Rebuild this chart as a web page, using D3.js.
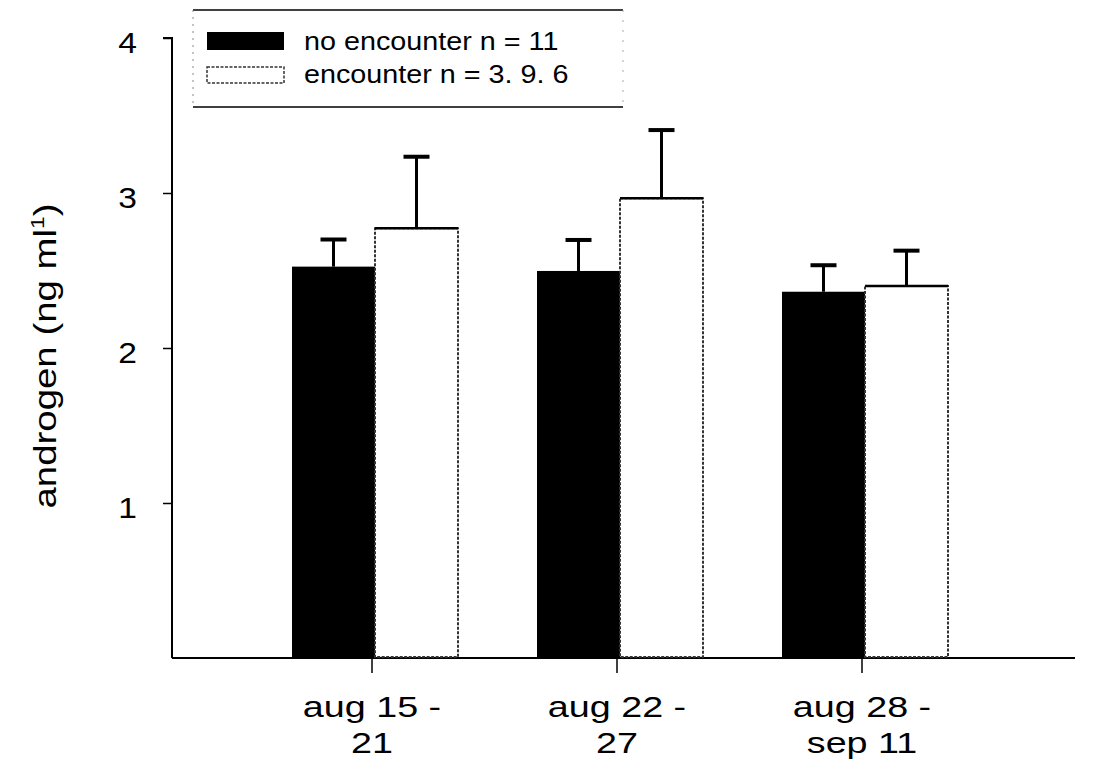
<!DOCTYPE html>
<html><head><meta charset="utf-8">
<script src="https://cdn.jsdelivr.net/npm/d3@7"></script>
<style>
body{margin:0;background:#fff;}
text{font-family:"Liberation Sans",Arial,sans-serif;fill:#000;}
</style></head>
<body><svg id="chart" width="1094" height="768"></svg>
<script>
const categories = [["aug 15 -","21"],["aug 22 -","27"],["aug 28 -","sep 11"]];
const seriesNames = ["no encounter n = 11","encounter n = 3. 9. 6"];
const noEncounter = [2.525, 2.497, 2.363];
const noEncounterErr = [0.175, 0.20, 0.171];
const encounter = [2.772, 2.966, 2.40];
const encounterErr = [0.462, 0.44, 0.228];
const yTicks = [1,2,3,4];

const svg = d3.select("#chart");
const catKeys = categories.map((c,i)=>"c"+i);
const x = d3.scalePoint().domain(catKeys).range([372, 862]);
const inner = d3.scaleBand().domain(["a","b"]).range([-80, 86]).paddingInner(0);
const y = d3.scaleLinear().domain([0,4]).range([658, 38]);

// y axis
const yAxis = d3.axisLeft(y).tickValues(yTicks).tickSize(9).tickFormat(d3.format("d"));
const gy = svg.append("g").attr("transform","translate(172,0)").call(yAxis);
gy.select(".domain").attr("d", `M-9,${y(4)}H0V${y(0)}`).attr("stroke","#000").attr("stroke-width",2);
gy.selectAll(".tick line").attr("stroke","#000").attr("stroke-width",1.5);
gy.selectAll(".tick text").style("font-size","30px").attr("x",0).attr("dy","0.36em")
  .attr("transform","translate(-35,4) scale(1.12,1)").attr("text-anchor","end");

// x axis
svg.append("line").attr("x1",172).attr("x2",1075).attr("y1",y(0)).attr("y2",y(0))
  .attr("stroke","#000").attr("stroke-width",2);
catKeys.forEach((k,i)=>{
  svg.append("line").attr("x1",x(k)).attr("x2",x(k)).attr("y1",y(0)).attr("y2",y(0)+15)
    .attr("stroke","#000").attr("stroke-width",1.5);
  svg.append("text").attr("transform",`translate(${x(k)},717) scale(1.3,1)`).attr("text-anchor","middle")
    .style("font-size","29px").text(categories[i][0]);
  svg.append("text").attr("transform",`translate(${x(k)},753) scale(1.3,1)`).attr("text-anchor","middle")
    .style("font-size","29px").text(categories[i][1]);
});

// y label
const yl = svg.append("text").attr("transform","translate(56,356) rotate(-90) scale(1.2,1)").attr("text-anchor","middle").style("font-size","32px");
yl.append("tspan").text("androgen (ng ml");
yl.append("tspan").attr("dy",-12).style("font-size","19px").text("1");
yl.append("tspan").attr("dy",12).text(")");

// bars
const rows = catKeys.map((k,i)=>({k, a:noEncounter[i], ae:noEncounterErr[i], b:encounter[i], be:encounterErr[i]}));
const capW = 26;
rows.forEach(r=>{
  const cx = x(r.k);
  [["a",r.a,r.ae],["b",r.b,r.be]].forEach(([s,v,e])=>{
    const mx = cx + inner(s) + inner.bandwidth()/2;
    svg.append("line").attr("x1",mx).attr("x2",mx).attr("y1",y(v)).attr("y2",y(v+e)).attr("stroke","#000").attr("stroke-width",3);
    svg.append("line").attr("x1",mx-capW/2).attr("x2",mx+capW/2).attr("y1",y(v+e)).attr("y2",y(v+e)).attr("stroke","#000").attr("stroke-width",4);
  });
  svg.append("rect").attr("x",cx+inner("a")).attr("width",inner.bandwidth())
    .attr("y",y(r.a)).attr("height",y(0)-y(r.a)).attr("fill","#000");
  const bx = cx+inner("b");
  svg.append("rect").attr("x",bx).attr("width",inner.bandwidth())
    .attr("y",y(r.b)).attr("height",y(0)-y(r.b)-1).attr("fill","#fff")
    .attr("stroke","#333").attr("stroke-width",2).attr("stroke-dasharray","3,1.5");
  svg.append("line").attr("x1",bx).attr("x2",bx+inner.bandwidth()).attr("y1",y(r.b)).attr("y2",y(r.b))
    .attr("stroke","#000").attr("stroke-width",2.5);
});

// legend
const lg = svg.append("g");
lg.append("line").attr("x1",193).attr("x2",623).attr("y1",10).attr("y2",10).attr("stroke","#000").attr("stroke-width",1.5);
lg.append("line").attr("x1",193).attr("x2",623).attr("y1",107).attr("y2",107).attr("stroke","#000").attr("stroke-width",1.5);
lg.append("line").attr("x1",193).attr("x2",193).attr("y1",10).attr("y2",107).attr("stroke","#888").attr("stroke-width",1).attr("stroke-dasharray","2,5");
lg.append("line").attr("x1",623).attr("x2",623).attr("y1",10).attr("y2",107).attr("stroke","#aaa").attr("stroke-width",1).attr("stroke-dasharray","2,8");
lg.append("rect").attr("x",207).attr("y",32).attr("width",77).attr("height",18).attr("fill","#000");
lg.append("rect").attr("x",207).attr("y",67).attr("width",77).attr("height",16).attr("fill","#fff")
  .attr("stroke","#333").attr("stroke-width",1.5).attr("stroke-dasharray","3,1.5");
lg.append("text").attr("transform","translate(304,50) scale(1.15,1)").style("font-size","25px").text(seriesNames[0]);
lg.append("text").attr("transform","translate(304,83) scale(1.15,1)").style("font-size","25px").text(seriesNames[1]);
</script></body></html>
